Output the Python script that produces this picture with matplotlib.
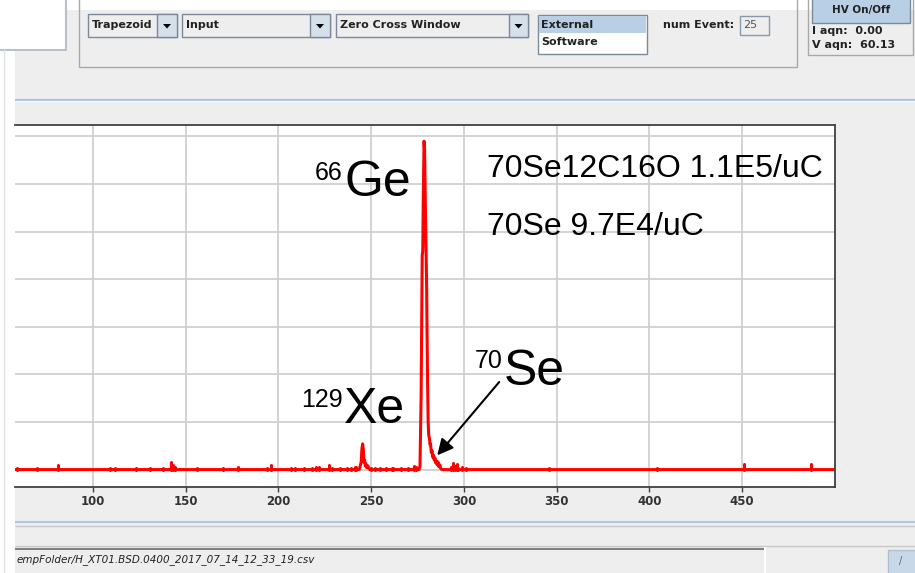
"""Spectrum screenshot: counts vs channel with isotope labels, inside a bit of GUI chrome."""

import matplotlib

matplotlib.use("Agg")
import matplotlib.pyplot as plt
from matplotlib.patches import Polygon, Rectangle

# main spectrum trace (channel, counts)
spec_ch = [58, 243.5, 244.0, 244.6, 245.0, 245.4, 245.8, 246.1, 246.4, 246.8, 247.2, 247.6,
           248.2, 248.8, 249.3,
           275.8, 276.3, 276.6, 276.9, 277.2, 277.5, 277.8, 278.1, 278.5, 278.8, 279.1, 279.4,
           279.7, 279.9, 280.1, 280.4, 280.7, 281.0, 281.4, 281.7, 282.0, 282.4, 282.8, 283.2,
           283.6, 284.0, 284.4, 284.8, 285.2, 285.6, 286.0, 286.5, 287.0, 287.5, 288.2, 500]
spec_counts = [0, 0, 3, 8, 22, 27, 20, 8, 10, 4, 6, 2,
               4, 1, 0,
               0, 4, 40, 75, 150, 225, 230, 290, 345, 335, 290, 250,
               215, 190, 145, 90, 50, 36, 33, 26, 27, 18, 20, 13,
               15, 10, 12, 7, 9, 5, 8, 3, 5, 1, 0, 0]

# single-channel noise blips on the baseline
spike_ch = [59, 70, 81, 109, 112, 123, 131, 138, 142, 143, 144, 156, 170, 178, 194, 196, 207,
            209, 214, 218, 220, 222, 227, 229, 233, 237, 239, 241, 242, 250, 252, 255, 258, 261,
            262, 266, 270, 273, 274, 293, 294, 295, 296, 297, 299, 301, 346, 404, 451, 487]
spike_counts = [2, 2, 5, 2, 2, 2, 2, 2, 8, 5, 3, 2, 2, 3, 2, 5, 2,
                2, 2, 2, 3, 3, 5, 2, 2, 2, 2, 3, 3, 2, 2, 2, 2, 2,
                2, 2, 2, 4, 3, 3, 7, 4, 6, 2, 3, 2, 2, 2, 6, 6]

x_ticks = [100, 150, 200, 250, 300, 350, 400, 450]
y_grid = [0, 50, 100, 150, 200, 250, 300, 350]

rate_lines = ["70Se12C16O 1.1E5/uC", "70Se 9.7E4/uC"]
status_path = "empFolder/H_XT01.BSD.0400_2017_07_14_12_33_19.csv"

plt.rcParams["font.family"] = ["DejaVu Sans"]
LABEL_FONT = "Liberation Sans"

fig = plt.figure(figsize=(9.15, 5.73), dpi=100, facecolor="#eeeeee")

# --- GUI chrome, drawn in pixel coordinates on a background axes ---
bg = fig.add_axes([0, 0, 1, 1])
bg.set_xlim(0, 915)
bg.set_ylim(573, 0)
bg.axis("off")


def box(x0, y0, x1, y1, fc="none", ec="none", lw=1.0):
    bg.add_patch(Rectangle((x0, y0), x1 - x0, y1 - y0, facecolor=fc, edgecolor=ec, lw=lw))


def hline(y, x0, x1, color, lw=1.0):
    bg.plot([x0, x1], [y, y], color=color, lw=lw, solid_capstyle="butt")


def gui_text(x, y, s, bold=True, size=8, color="#222222", ha="left"):
    bg.text(x, y, s, fontsize=size, fontweight="bold" if bold else "normal",
            color=color, va="center", ha=ha)


box(0, 0, 915, 10, fc="white")
box(0, 0, 15, 573, fc="white")
box(-2, -2, 66, 50, fc="white", ec="#b4c2d0", lw=1.5)
bg.plot([4, 4], [50, 573], color="#e2e2e2", lw=1)

# settings panel with dropdowns
box(79, -2, 797, 67, ec="#a8a8a8")
for x0, xa, x1, label in [(88, 157, 177, "Trapezoid"), (182, 310, 330, "Input"),
                          (336, 509, 528, "Zero Cross Window")]:
    box(x0, 14, x1, 37, fc="#eeeeee", ec="#7a8a99")
    box(xa, 14, x1, 37, fc="#d5e0eb", ec="#7a8a99")
    cx = (xa + x1) / 2
    bg.add_patch(Polygon([(cx - 4, 24), (cx + 4, 24), (cx, 28.5)], closed=True,
                         facecolor="black", edgecolor="none"))
    gui_text(x0 + 4, 25.5, label)

box(538, 15, 647, 54, fc="white", ec="#7a8a99")
box(539, 16, 646, 33, fc="#b8cfe5")
gui_text(541, 24.5, "External")
gui_text(541, 42, "Software")
gui_text(663, 25, "num Event:")
box(740, 16, 769, 35, fc="#eeeeee", ec="#8a9aa9")
gui_text(743, 25.5, "25", bold=False, color="#555555")

# HV panel
box(808, -2, 913, 55, ec="#a8a8a8")
box(812, -2, 910, 23, fc="#b8cfe5", ec="#7a8a99")
gui_text(861, 10, "HV On/Off", size=7.5, ha="center")
gui_text(812, 31, "I aqn:  0.00")
gui_text(812, 45, "V aqn:  60.13")

hline(99.5, 15, 915, "#a8c0e0", lw=1.5)
hline(101, 15, 915, "#f8f8f8", lw=1)

# bottom status bar
hline(522, 15, 915, "#b0c8e4", lw=1.5)
hline(526, 15, 915, "#c8c8c8", lw=1)
hline(546, 15, 915, "#c8c8c8", lw=1)
box(15, 548, 764, 573, fc="#eeeeee")
hline(548.5, 15, 764, "#808080", lw=1.5)
bg.plot([764.5, 764.5], [548, 573], color="white", lw=1.5)
bg.text(17, 560, status_path, fontsize=7.5, style="italic", color="#222222",
        ha="left", va="center")
box(888, 550, 917, 575, fc="#c8d8e8", ec="#b0c0d0")
bg.text(901, 561, "/", fontsize=7, color="#556677", ha="center", va="center")

# --- the spectrum plot ---
ax = fig.add_axes([15 / 915, 1 - 487 / 573, 820 / 915, 362 / 573])
ax.set_facecolor("white")
ax.plot(spec_ch, spec_counts, color="#ff0000", lw=2.2, solid_joinstyle="round")
ax.vlines(spike_ch, 0, spike_counts, color="#ff0000", lw=2.2, capstyle="round")

ax.set_xlim(58, 500)
ax.set_ylim(-18.3, 362)
ax.set_xticks(x_ticks)
ax.set_yticks(y_grid)
ax.grid(True, color="#cccccc", lw=1.2)
ax.set_axisbelow(True)
ax.spines["left"].set_visible(False)
for side in ("top", "right", "bottom"):
    ax.spines[side].set_color("#404040")
    ax.spines[side].set_linewidth(1.3)
ax.tick_params(axis="x", direction="out", length=3.6, width=1, color="#404040", pad=2.5,
               labelsize=8.5, labelcolor="#333333")
for lab in ax.get_xticklabels():
    lab.set_fontweight("bold")
ax.tick_params(axis="y", left=False, labelleft=False)

# isotope labels: small mass number + large element symbol, baseline aligned
for mass, elem, xm, yb_small, yb_big in [("66", "Ge", 234.8, 304, 287),
                                         ("129", "Xe", 234.8, 66, 49),
                                         ("70", "Se", 320.6, 107, 89)]:
    ax.text(xm, yb_small, mass, fontsize=18, family=LABEL_FONT, ha="right", va="baseline")
    ax.text(xm + 0.6, yb_big, elem, fontsize=36, family=LABEL_FONT, ha="left", va="baseline")

ax.text(312.5, 307, rate_lines[0], fontsize=23, family=LABEL_FONT, ha="left", va="baseline")
ax.text(312.5, 246, rate_lines[1], fontsize=23, family=LABEL_FONT, ha="left", va="baseline")

ax.annotate("", xy=(285.6, 15), xytext=(319, 92),
            arrowprops=dict(arrowstyle="-|>", color="black", lw=1.5, mutation_scale=24,
                            shrinkA=0, shrinkB=0))

fig.savefig("out.png", dpi=100, facecolor=fig.get_facecolor())
plt.close(fig)
